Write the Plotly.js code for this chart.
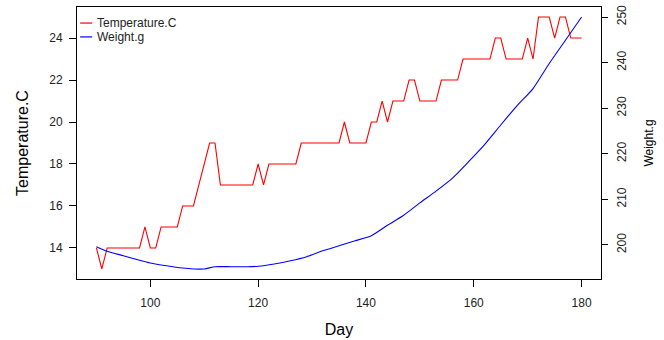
<!DOCTYPE html>
<html>
<head>
<meta charset="utf-8">
<script src="https://cdn.plot.ly/plotly-3.0.1.min.js"></script>
<style>html,body{margin:0;padding:0;background:#fff;}#chart{width:664px;height:340px;}</style>
</head>
<body>
<div id="chart"></div>
<script>
// Days (x values) for the temperature series
const days = [
  90, 91, 92, 93, 94, 95, 96, 97, 98, 99,
  100, 101, 102, 103, 104, 105, 106, 107, 108, 109,
  110, 111, 112, 113, 114, 115, 116, 117, 118, 119,
  120, 121, 122, 123, 124, 125, 126, 127, 128, 129,
  130, 131, 132, 133, 134, 135, 136, 137, 138, 139,
  140, 141, 142, 143, 144, 145, 146, 147, 148, 149,
  150, 151, 152, 153, 154, 155, 156, 157, 158, 159,
  160, 161, 162, 163, 164, 165, 166, 167, 168, 169,
  170, 171, 172, 173, 174, 175, 176, 177, 178, 179, 180
];
// Temperature (C) per day
const temperature = [
  14, 13, 14, 14, 14, 14, 14, 14, 14, 15,
  14, 14, 15, 15, 15, 15, 16, 16, 16, 17,
  18, 19, 19, 17, 17, 17, 17, 17, 17, 17,
  18, 17, 18, 18, 18, 18, 18, 18, 19, 19,
  19, 19, 19, 19, 19, 19, 20, 19, 19, 19,
  19, 20, 20, 21, 20, 21, 21, 21, 22, 22,
  21, 21, 21, 21, 22, 22, 22, 22, 23, 23,
  23, 23, 23, 23, 24, 24, 23, 23, 23, 23,
  24, 23, 25, 25, 25, 24, 25, 25, 24, 24, 24
];
// Weight (g), read at these days
const weightDays = [90, 92, 95, 98, 100, 103, 106, 108, 110, 112, 115, 118, 120, 123, 126, 129, 132, 135, 138, 141, 144, 147, 150, 153, 156, 159, 162, 165, 168, 171, 174, 177, 180];
const weight = [199.6, 198.6, 197.6, 196.6, 196.0, 195.4, 194.9, 194.7, 194.7, 195.2, 195.2, 195.2, 195.3, 195.8, 196.5, 197.4, 198.7, 199.8, 200.9, 202.0, 204.3, 206.5, 209.2, 211.8, 214.6, 218.2, 222.0, 226.3, 230.5, 234.3, 239.8, 244.9, 250.0];

const xTicks = [100, 120, 140, 160, 180];
const tempTicks = [14, 16, 18, 20, 22, 24];
const weightTicks = [200, 210, 220, 230, 240, 250];
const seriesNames = ['Temperature.C', 'Weight.g'];
const seriesColors = ['#ff0000', '#0000ff'];

const FONT = '"Liberation Sans", Arial, sans-serif';

const traces = [
  {x: days, y: temperature, type: 'scatter', mode: 'lines', name: seriesNames[0],
   line: {color: seriesColors[0], width: 1.1}, yaxis: 'y'},
  {x: weightDays, y: weight, type: 'scatter', mode: 'lines', name: seriesNames[1],
   line: {color: seriesColors[1], width: 1.1, shape: 'spline', smoothing: 0.6}, yaxis: 'y2'}
];

// Compact R-style legend (no box): short line keys + labels, in paper coordinates
const legendShapes = [];
const legendNotes = [];
const legRowsY = [0.941, 0.890];
seriesNames.forEach((nm, i) => {
  legendShapes.push({type: 'line', xref: 'paper', yref: 'paper',
    x0: 0.006, x1: 0.029, y0: legRowsY[i], y1: legRowsY[i],
    line: {color: seriesColors[i], width: 1.2}});
  legendNotes.push({xref: 'paper', yref: 'paper', x: 0.034, y: legRowsY[i],
    xanchor: 'left', yanchor: 'middle', text: nm, showarrow: false,
    font: {family: FONT, size: 12, color: '#222'}});
});

const layout = {
  width: 664, height: 340,
  margin: {l: 77, r: 63, t: 7, b: 61},
  paper_bgcolor: '#ffffff', plot_bgcolor: '#ffffff',
  font: {family: FONT, color: '#000', size: 12},
  showlegend: false,
  shapes: legendShapes,
  annotations: legendNotes,
  xaxis: {range: [86.4, 183.6], tickvals: xTicks, ticktext: xTicks.map(String),
          ticks: 'outside', ticklen: 7, tickcolor: '#000', showline: true, mirror: true,
          linecolor: '#000', linewidth: 1, showgrid: false, zeroline: false,
          ticklabelstandoff: 6,
          tickfont: {size: 12, color: '#222'},
          title: {text: 'Day', font: {size: 16, color: '#000'}, standoff: 14}},
  yaxis: {range: [12.52, 25.48], tickvals: tempTicks, ticktext: tempTicks.map(String),
          ticks: 'outside', ticklen: 7, tickcolor: '#000', showline: true, mirror: true,
          linecolor: '#000', linewidth: 1, showgrid: false, zeroline: false,
          ticklabelstandoff: 4,
          tickfont: {size: 12, color: '#222'},
          title: {text: 'Temperature.C', font: {size: 16, color: '#000'}, standoff: 16}},
  yaxis2: {range: [192.5, 252.2], tickvals: weightTicks, ticktext: weightTicks.map(String),
           overlaying: 'y', side: 'right', tickangle: -90,
           ticks: 'outside', ticklen: 6, tickcolor: '#000', showline: false,
           showgrid: false, zeroline: false,
           ticklabelstandoff: 4,
           tickfont: {size: 12, color: '#222'},
           title: {text: 'Weight.g', font: {size: 12, color: '#000'}, standoff: 16}}
};

Plotly.newPlot('chart', traces, layout, {displayModeBar: false, staticPlot: true});
</script>
</body>
</html>
